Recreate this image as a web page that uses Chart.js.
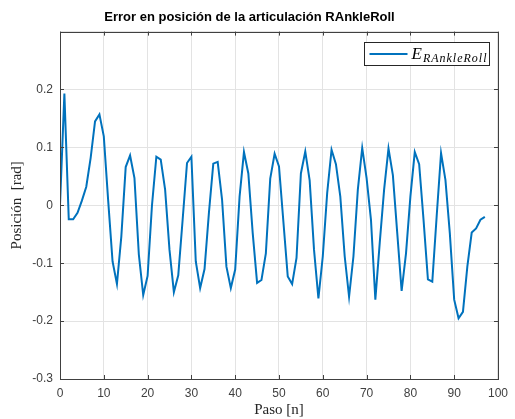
<!DOCTYPE html>
<html>
<head>
<meta charset="utf-8">
<script src="https://cdn.jsdelivr.net/npm/chart.js@4/dist/chart.umd.min.js"></script>
<style>
  html, body { margin: 0; padding: 0; background: #ffffff; }
  #wrap { width: 515px; height: 419px; }
</style>
</head>
<body>
<div id="wrap"><canvas id="error_chart" width="515" height="419"></canvas></div>
<script>
"use strict";

// pasos (eje x)
const pasos = [0, 1, 2, 3, 4, 5, 6, 7, 8, 9, 10, 11, 12, 13, 14, 15, 16, 17, 18, 19,
  20, 21, 22, 23, 24, 25, 26, 27, 28, 29, 30, 31, 32, 33, 34, 35, 36, 37, 38, 39,
  40, 41, 42, 43, 44, 45, 46, 47, 48, 49, 50, 51, 52, 53, 54, 55, 56, 57, 58, 59,
  60, 61, 62, 63, 64, 65, 66, 67, 68, 69, 70, 71, 72, 73, 74, 75, 76, 77, 78, 79,
  80, 81, 82, 83, 84, 85, 86, 87, 88, 89, 90, 91, 92, 93, 94, 95, 96, 97];

// error RAnkleRoll [rad]
const errorRAnkleRoll = [0.000, 0.193, -0.024, -0.024, -0.013, 0.008, 0.032, 0.082, 0.145, 0.157,
  0.119, 0.008, -0.097, -0.136, -0.054, 0.066, 0.086, 0.047, -0.085, -0.155,
  -0.122, 0.000, 0.084, 0.079, 0.027, -0.077, -0.150, -0.121, -0.025, 0.073,
  0.084, -0.097, -0.143, -0.110, -0.013, 0.072, 0.075, 0.010, -0.106, -0.143,
  -0.111, 0.015, 0.092, 0.055, -0.048, -0.134, -0.129, -0.083, 0.046, 0.089,
  0.067, -0.028, -0.123, -0.136, -0.091, 0.055, 0.093, 0.043, -0.077, -0.161,
  -0.088, 0.021, 0.096, 0.071, 0.015, -0.088, -0.158, -0.088, 0.027, 0.099,
  0.047, -0.025, -0.163, -0.065, 0.027, 0.098, 0.052, -0.048, -0.148, -0.083,
  0.015, 0.092, 0.071, -0.025, -0.128, -0.132, -0.019, 0.090, 0.044, -0.048,
  -0.163, -0.195, -0.184, -0.106, -0.047, -0.040, -0.025, -0.020];

// ticks
const xTicks = [0, 10, 20, 30, 40, 50, 60, 70, 80, 90, 100];
const yTicks = [-0.3, -0.2, -0.1, 0, 0.1, 0.2, 0.3];

const tituloGrafica = "Error en posición de la articulación RAnkleRoll";
const leyendaBase = "E";
const leyendaSub = "RAnkleRoll";

const lineColor = "#0072bd";
const axisColor = "#404040";

// marco, ticks interiores y leyenda (estilo MATLAB)
const matlabFrame = {
  id: "matlabFrame",
  afterDraw(chart) {
    const c = chart.ctx;
    const a = chart.chartArea;
    const xs = chart.scales.x;
    const ys = chart.scales.y;
    c.save();
    c.strokeStyle = axisColor;
    c.lineWidth = 1;
    // ticks
    c.beginPath();
    xTicks.forEach(function (v) {
      const px = Math.round(xs.getPixelForValue(v)) + 0.5;
      c.moveTo(px, a.bottom); c.lineTo(px, a.bottom - 4);
      c.moveTo(px, a.top); c.lineTo(px, a.top + 4);
    });
    yTicks.forEach(function (v) {
      const py = Math.round(ys.getPixelForValue(v)) + 0.5;
      c.moveTo(a.left, py); c.lineTo(a.left + 4, py);
      c.moveTo(a.right, py); c.lineTo(a.right - 4, py);
    });
    c.stroke();
    c.strokeRect(Math.round(a.left) + 0.5, Math.round(a.top) + 0.5,
      Math.round(a.right - a.left), Math.round(a.bottom - a.top));

    // leyenda
    const bx = 364.5, by = 42.5, bw = 125, bh = 23;
    c.fillStyle = "#ffffff";
    c.fillRect(bx, by, bw, bh);
    c.strokeStyle = "#262626";
    c.lineWidth = 1;
    c.strokeRect(bx, by, bw, bh);
    c.strokeStyle = lineColor;
    c.lineWidth = 2;
    c.beginPath();
    c.moveTo(bx + 5, by + 11.5);
    c.lineTo(bx + 43, by + 11.5);
    c.stroke();
    c.fillStyle = "#000000";
    c.textBaseline = "alphabetic";
    c.textAlign = "left";
    c.font = "italic 17px 'Liberation Serif', 'DejaVu Serif', serif";
    c.fillText(leyendaBase, bx + 47, by + 16);
    const ew = c.measureText(leyendaBase).width;
    c.font = "italic 12px 'Liberation Serif', 'DejaVu Serif', serif";
    c.letterSpacing = "1px";
    c.fillText(leyendaSub, bx + 47 + ew + 1, by + 19);
    c.restore();
  }
};

const ctx = document.getElementById("error_chart").getContext("2d");

new Chart(ctx, {
  type: "line",
  data: {
    labels: pasos,
    datasets: [{
      label: leyendaBase + leyendaSub,
      data: pasos.map(function (p, i) { return { x: p, y: errorRAnkleRoll[i] }; }),
      borderColor: lineColor,
      borderWidth: 2,
      pointRadius: 0,
      fill: false,
      tension: 0
    }]
  },
  options: {
    responsive: false,
    animation: false,
    layout: {
      padding: { left: 0, right: 16, top: 0, bottom: 0 }
    },
    scales: {
      x: {
        type: "linear",
        min: 0,
        max: 100,
        afterFit: function (scale) { scale.height = 40; },
        afterBuildTicks: function (scale) {
          scale.ticks = xTicks.map(function (v) { return { value: v }; });
        },
        grid: {
          color: "#e3e3e3",
          drawTicks: false
        },
        border: { display: false },
        ticks: {
          padding: 7,
          color: axisColor,
          font: { family: "'Liberation Sans', Arial, sans-serif", size: 12 },
          maxRotation: 0,
          autoSkip: false
        },
        title: {
          display: true,
          text: "Paso [n]",
          color: "#262626",
          font: { family: "'Liberation Serif', 'DejaVu Serif', serif", size: 15 },
          padding: { top: 0, bottom: 0 }
        }
      },
      y: {
        min: -0.3,
        max: 0.3,
        afterFit: function (scale) { scale.width = 60; },
        afterBuildTicks: function (scale) {
          scale.ticks = yTicks.map(function (v) { return { value: v }; });
        },
        grid: {
          color: "#e3e3e3",
          drawTicks: false
        },
        border: { display: false },
        ticks: {
          padding: 7,
          color: axisColor,
          font: { family: "'Liberation Sans', Arial, sans-serif", size: 12 },
          callback: function (value) {
            if (Math.abs(value - 0.3) < 1e-9) return "";
            return Math.abs(value) < 1e-9 ? "0" : String(Math.round(value * 10) / 10);
          }
        },
        title: {
          display: true,
          text: "Posición  [rad]",
          color: "#262626",
          font: { family: "'Liberation Serif', 'DejaVu Serif', serif", size: 15 },
          padding: { top: 8, bottom: 0 }
        }
      }
    },
    plugins: {
      legend: { display: false },
      tooltip: { enabled: false },
      title: {
        display: true,
        text: tituloGrafica,
        color: "#000000",
        font: { family: "'Liberation Sans', Arial, sans-serif", size: 13, weight: "bold" },
        padding: { top: 10, bottom: 6 }
      }
    }
  },
  plugins: [matlabFrame]
});
</script>
</body>
</html>
